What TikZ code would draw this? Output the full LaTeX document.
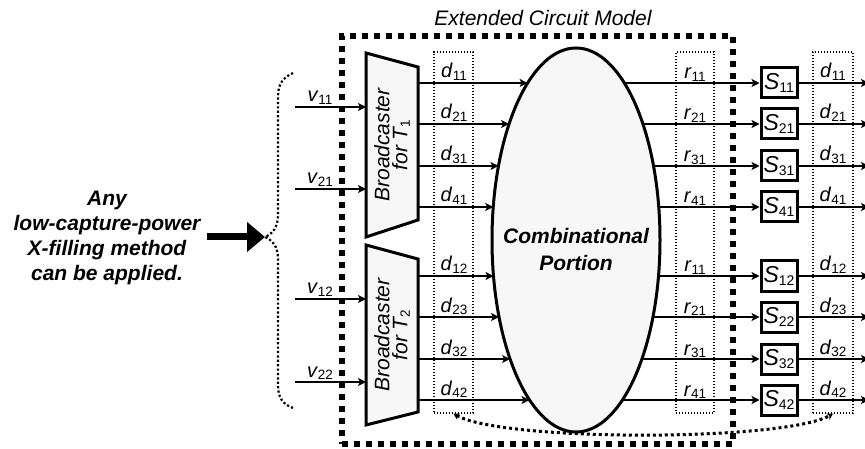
\documentclass[tikz,border=0pt]{standalone}
\usepackage{fontspec}
\setmainfont{Liberation Sans}
\usetikzlibrary{arrows.meta,shapes.geometric,intersections}
\newcommand{\lbl}[3][13.5]{\textit{#2}{\fontsize{#1}{#1}\selectfont\raisebox{-2.5pt}{\upshape #3}}}
\tikzset{
  conn/.style={line width=1.8pt, -{Stealth[length=8pt,width=8pt,inset=2pt]}},
  dotcol/.style={draw, line width=1.4pt, dash pattern=on 1.4pt off 1.6pt, minimum width=#1, minimum height=361, inner sep=0},
  lab/.style={font=\fontsize{20}{24}\selectfont, inner sep=0, anchor=base},
  sbox/.style={draw, line width=3pt, minimum width=36, minimum height=30, inner sep=0, fill=white, font=\fontsize{23}{23}\selectfont},
  bigtext/.style={font=\fontsize{21}{#1}\selectfont\bfseries\itshape, align=center},
  lightfill/.style={fill=black!3}
}
\begin{document}
\begin{tikzpicture}[x=1pt,y=-1pt]
\useasboundingbox (0,0) rectangle (865,449);
% title and left text
\node[font=\fontsize{21}{24}\selectfont\itshape] (title) at (543,18) {Extended Circuit Model};
\node[bigtext=25, inner xsep=6pt] (anytext) at (107,238) {Any\\low-capture-power\\X-filling method\\can be applied.};
% dotted columns
\node[dotcol=39] (dcol) at (453.5,232.5) {};
\node[dotcol=38] (rcol) at (695,232.5) {};
\node[dotcol=40] (ocol) at (833,232.5) {};
% combinational portion
\node[ellipse, draw, line width=3pt, lightfill, minimum width=168, minimum height=384, inner sep=0, outer sep=0] (ell) at (576,240) {};
\path[name path=E] (ell.center) ellipse [x radius=84pt, y radius=192pt];
\node[bigtext=27] (comb) at (576,249) {Combinational\\Portion};
% broadcasters
\node[minimum width=52, minimum height=184, inner sep=0, outer sep=0] (bc1) at (392,145) {};
\draw[line width=3pt, lightfill, line join=miter] (bc1.north west) -- ([yshift=-14pt]bc1.north east) -- ([yshift=17pt]bc1.south east) -- (bc1.south west) -- cycle;
\node[rotate=90, font=\fontsize{21}{18}\selectfont\itshape, align=center] (bt1) at (bc1.center) {Broadcaster\\for \lbl{T}{1}};
\node[minimum width=52, minimum height=180, inner sep=0, outer sep=0] (bc2) at (392,335) {};
\draw[line width=3pt, lightfill, line join=miter] (bc2.north west) -- ([yshift=-14pt]bc2.north east) -- ([yshift=13pt]bc2.south east) -- (bc2.south west) -- cycle;
\node[rotate=90, font=\fontsize{21}{18}\selectfont\itshape, align=center] (bt2) at (bc2.center) {Broadcaster\\for \lbl{T}{2}};
% inputs
\coordinate (vin) at (295,0);
\coordinate (redge) at (869,0);
\foreach \j/\y/\s/\bc in {1/107/11/bc1, 2/189/21/bc1, 3/299/12/bc2, 4/382/22/bc2} {
  \node[lab] (vl\j) at (320,\y-5) {\lbl{v}{\s}};
  \draw[conn] (vin |- 0,\y) -- (\bc.west |- 0,\y);
}
% rows
\foreach \i/\y/\dl/\rs/\ss/\od/\bc in {
  1/83/11/11/11/11/bc1,
  2/124/21/21/21/21/bc1,
  3/166/31/31/31/31/bc1,
  4/207/41/41/41/41/bc1,
  5/276/12/11/12/12/bc2,
  6/317/23/21/22/23/bc2,
  7/359/32/31/32/32/bc2,
  8/400/42/41/42/42/bc2} {
  \node[lab] (dl\i) at (454,\y-5) {\lbl{d}{\dl}};
  \node[lab] (rl\i) at (695,\y-4) {\lbl{r}{\rs}};
  \node[lab] (ol\i) at (833,\y-5) {\lbl{d}{\od}};
  \node[sbox] (s\i) at (779,\y) {\lbl[14]{S}{\ss}};
  \path[name path=rowL\i] (420,\y) -- (576,\y);
  \path[name path=rowR\i] (576,\y) -- (760,\y);
  \path[name intersections={of=E and rowL\i, by={eL\i}}];
  \path[name intersections={of=E and rowR\i, by={eR\i}}];
  \draw[conn] (\bc.east |- 0,\y) -- (eL\i);
  \draw[conn] (eR\i) -- (s\i.west);
  \draw[conn] (s\i.east) -- (s\i.east -| redge);
}
% copy relation
\draw[line width=3pt, dash pattern=on 3pt off 3pt, {Stealth[length=6pt,width=7pt]}-{Stealth[length=6pt,width=7pt]}] (dcol.south) .. controls +(50,28) and +(-50,28) .. (ocol.south);
% extended circuit model box
\node[draw, line width=5.5pt, dash pattern=on 6pt off 6pt, minimum width=391, minimum height=408, inner sep=0] (ecm) at (537.5,240) {};
% brace and arrow
\coordinate (btip) at (265,237);
\draw[line width=2.2pt, dash pattern=on 2.2pt off 2.2pt] (293,73) .. controls (282,78) and (278,85) .. (278,97) -- (278,215) .. controls (278,228) and (272,234) .. (btip) .. controls (272,240) and (278,246) .. (278,259) -- (278,385) .. controls (278,397) and (282,404) .. (293,408);
\draw[line width=7pt, -{Triangle[length=18pt,width=29pt]}] (anytext.east |- btip) -- (btip);
\end{tikzpicture}
\end{document}
